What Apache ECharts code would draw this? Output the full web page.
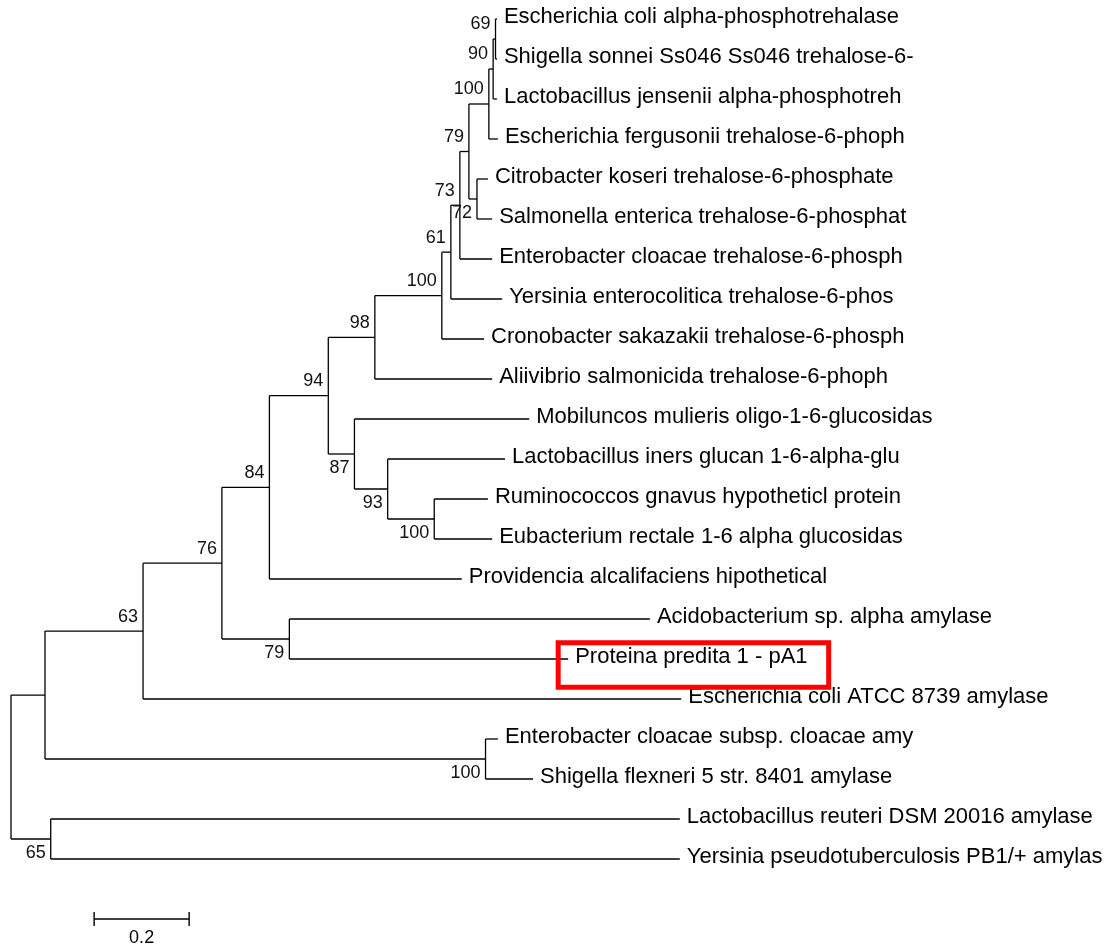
<!DOCTYPE html>
<html>
<head>
<meta charset="utf-8">
<script src="https://cdn.jsdelivr.net/npm/echarts@6/dist/echarts.min.js"></script>
<style>
html,body{margin:0;padding:0;background:#fff;}
#chart{width:1114px;height:947px;}
</style>
</head>
<body>
<div id="chart"></div>
<script>
// ---- Data: leaves (top to bottom) ----
const leafNames = [
  'Escherichia coli alpha-phosphotrehalase',
  'Shigella sonnei Ss046 Ss046 trehalose-6-',
  'Lactobacillus jensenii alpha-phosphotreh',
  'Escherichia fergusonii trehalose-6-phoph',
  'Citrobacter koseri trehalose-6-phosphate',
  'Salmonella enterica trehalose-6-phosphat',
  'Enterobacter cloacae trehalose-6-phosph',
  'Yersinia enterocolitica trehalose-6-phos',
  'Cronobacter sakazakii trehalose-6-phosph',
  'Aliivibrio salmonicida trehalose-6-phoph',
  'Mobiluncos mulieris oligo-1-6-glucosidas',
  'Lactobacillus iners glucan 1-6-alpha-glu',
  'Ruminococcos gnavus hypotheticl protein',
  'Eubacterium rectale 1-6 alpha glucosidas',
  'Providencia alcalifaciens hipothetical',
  'Acidobacterium sp. alpha amylase',
  'Proteina predita 1 - pA1',
  'Escherichia coli ATCC 8739 amylase',
  'Enterobacter cloacae subsp. cloacae amy',
  'Shigella flexneri 5 str. 8401 amylase',
  'Lactobacillus reuteri DSM 20016 amylase',
  'Yersinia pseudotuberculosis PB1/+ amylas'
];
// cumulative distance from root to each leaf tip
const leafDepth = [1.023, 1.023, 1.023, 1.025, 1.004, 1.013, 1.013, 1.034, 0.996, 1.013,
                   1.091, 1.040, 1.004, 1.013, 0.949, 1.345, 1.173, 1.411, 1.025, 1.099,
                   1.408, 1.408];
// internal nodes: children ('L#' leaf, 'N#' node), depth from root, bootstrap support
const nodeChildren = [
  ['N1','N2'], ['N3','N4'], ['L20','L21'], ['N5','L17'], ['L18','L19'],
  ['N6','N7'], ['N8','L14'], ['L15','L16'], ['N9','N10'], ['N11','L9'],
  ['L10','N12'], ['N13','L8'], ['L11','N14'], ['N15','L7'], ['L12','L13'],
  ['N16','L6'], ['N17','N18'], ['N19','L3'], ['L4','L5'], ['N20','L2'],
  ['L0','L1']
];
const nodeDepth = [0, 0.0716, 0.0836, 0.278, 0.999, 0.444, 0.544, 0.586, 0.668, 0.766,
                   0.723, 0.907, 0.793, 0.926, 0.891, 0.945, 0.964, 1.006, 0.981, 1.015,
                   1.020];
const nodeSupport = [null, null, 65, 63, 100, 76, 84, 79, 94, 98,
                     87, 100, 93, 61, 100, 73, 79, 100, 72, 90,
                     69];
const highlightLeaf = 16;
const scaleBar = { start: 0.175, length: 0.2, row: 22.5, label: '0.2' };

// ---- Build geometry in data units ----
function pos(id) {
  const i = +id.slice(1);
  if (id[0] === 'L') return { x: leafDepth[i], y: i };
  return nodePos[i];
}
const nodePos = [];
function layout(i) {
  if (nodePos[i]) return nodePos[i];
  const ys = nodeChildren[i].map(c => c[0] === 'L' ? +c.slice(1) : layout(+c.slice(1)).y);
  nodePos[i] = { x: nodeDepth[i], y: (ys[0] + ys[ys.length - 1]) / 2 };
  return nodePos[i];
}
layout(0);

const segments = [];
const supportData = [];
nodeChildren.forEach((ch, i) => {
  const p = nodePos[i];
  const cps = ch.map(pos);
  segments.push([p.x, cps[0].y, p.x, cps[cps.length - 1].y]);
  cps.forEach((cp, k) => {
    segments.push([p.x, cp.y, cp.x, cp.y]);
    const c = ch[k];
    if (c[0] === 'N') {
      const j = +c.slice(1);
      if (nodeSupport[j] != null) {
        supportData.push([cp.x, cp.y, nodeSupport[j], k === 0 ? -1 : 1]);
      }
    }
  });
});
const leafData = leafNames.map((n, i) => [leafDepth[i], i, n]);

const FONT = '"Liberation Sans", Arial, sans-serif';

const chart = echarts.init(document.getElementById('chart'), null, { renderer: 'canvas' });
chart.setOption({
  animation: false,
  backgroundColor: '#fff',
  grid: { left: 11, top: 19, width: 950, height: 920 },
  xAxis: { type: 'value', min: 0, max: 2, show: false },
  yAxis: { type: 'value', min: 0, max: 23, inverse: true, show: false },
  series: [
    {
      type: 'custom', clip: false, silent: true,
      data: segments,
      renderItem: function (params, api) {
        const a = api.coord([api.value(0), api.value(1)]);
        const b = api.coord([api.value(2), api.value(3)]);
        return { type: 'line', shape: { x1: a[0], y1: a[1], x2: b[0], y2: b[1] },
                 style: { stroke: '#000', lineWidth: 1.3 } };
      }
    },
    {
      type: 'custom', clip: false, silent: true,
      data: leafData,
      dimensions: ['x', 'y', 'name'],
      renderItem: function (params, api) {
        const p = api.coord([api.value(0), api.value(1)]);
        return { type: 'text', x: p[0] + 7, y: p[1] - 2.5,
                 style: { text: leafData[params.dataIndex][2], fill: '#000',
                          font: '22px ' + FONT, textAlign: 'left', textVerticalAlign: 'middle' } };
      }
    },
    {
      type: 'custom', clip: false, silent: true,
      data: supportData,
      renderItem: function (params, api) {
        const p = api.coord([api.value(0), api.value(1)]);
        const side = api.value(3);
        return { type: 'text', x: p[0] - 5, y: p[1] + side * 14.5,
                 style: { text: String(api.value(2)), fill: '#111',
                          font: '18px ' + FONT, textAlign: 'right', textVerticalAlign: 'middle' } };
      }
    },
    {
      type: 'custom', clip: false, silent: true,
      data: [[leafDepth[highlightLeaf], highlightLeaf]],
      renderItem: function (params, api) {
        const p = api.coord([api.value(0), api.value(1)]);
        return { type: 'rect', shape: { x: p[0] - 10, y: p[1] - 16.3, width: 270.5, height: 44.5 },
                 style: { fill: 'none', stroke: '#ff0000', lineWidth: 5 } };
      }
    },
    {
      type: 'custom', clip: false, silent: true,
      data: [[scaleBar.start, scaleBar.row, scaleBar.start + scaleBar.length]],
      renderItem: function (params, api) {
        const a = api.coord([api.value(0), api.value(1)]);
        const b = api.coord([api.value(2), api.value(1)]);
        const st = { stroke: '#000', lineWidth: 1.4 };
        return { type: 'group', children: [
          { type: 'line', shape: { x1: a[0], y1: a[1], x2: b[0], y2: b[1] }, style: st },
          { type: 'line', shape: { x1: a[0], y1: a[1] - 7, x2: a[0], y2: a[1] + 7 }, style: st },
          { type: 'line', shape: { x1: b[0], y1: b[1] - 7, x2: b[0], y2: b[1] + 7 }, style: st },
          { type: 'text', x: (a[0] + b[0]) / 2, y: a[1] + 19,
            style: { text: scaleBar.label, fill: '#000', font: '18px ' + FONT,
                     textAlign: 'center', textVerticalAlign: 'middle' } }
        ] };
      }
    }
  ]
});
</script>
</body>
</html>
